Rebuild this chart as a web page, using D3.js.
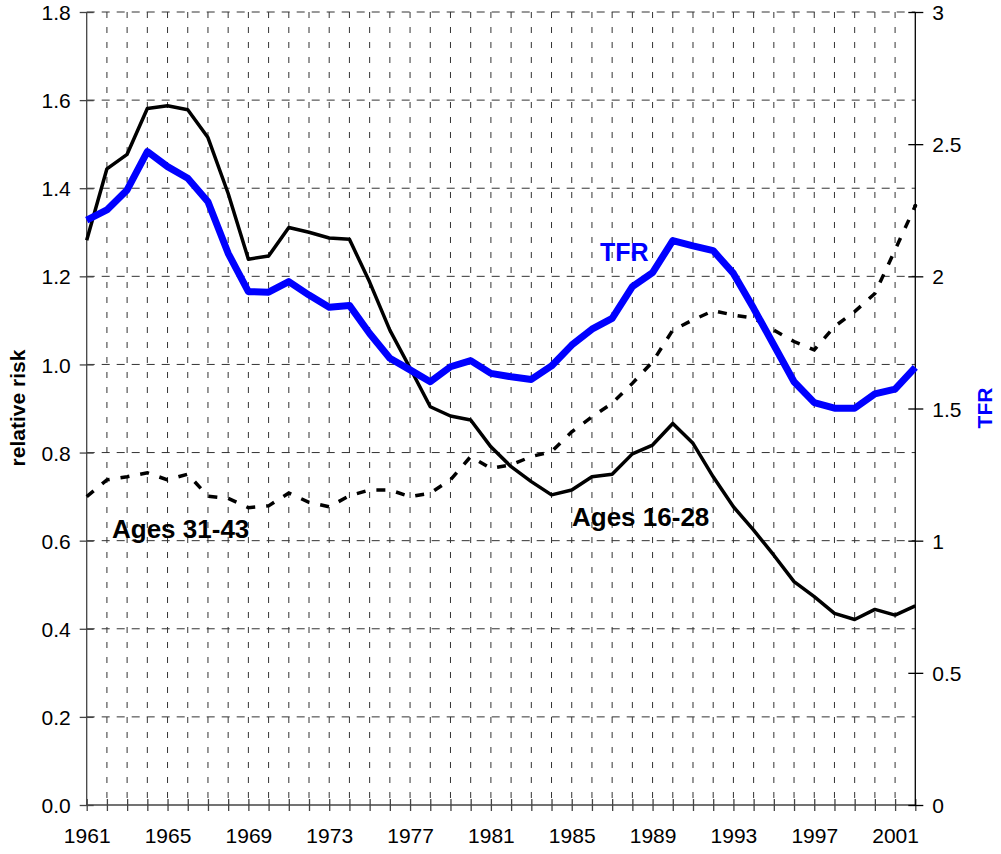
<!DOCTYPE html>
<html>
<head>
<meta charset="utf-8">
<script src="https://cdn.jsdelivr.net/npm/d3@7"></script>
<style>
  body { margin: 0; background: #fff; }
  svg { display: block; font-family: "Liberation Sans", Arial, sans-serif; }
</style>
</head>
<body>
<script>
const years = [1961, 1962, 1963, 1964, 1965, 1966, 1967, 1968, 1969, 1970,
               1971, 1972, 1973, 1974, 1975, 1976, 1977, 1978, 1979, 1980,
               1981, 1982, 1983, 1984, 1985, 1986, 1987, 1988, 1989, 1990,
               1991, 1992, 1993, 1994, 1995, 1996, 1997, 1998, 1999, 2000,
               2001, 2002];
const ages1628 = [1.282, 1.444, 1.477, 1.581, 1.587, 1.578, 1.515, 1.388, 1.239, 1.246,
                  1.311, 1.300, 1.287, 1.284, 1.187, 1.078, 0.992, 0.904, 0.883, 0.874,
                  0.813, 0.768, 0.734, 0.704, 0.715, 0.745, 0.751, 0.797, 0.817, 0.866,
                  0.821, 0.745, 0.677, 0.624, 0.567, 0.507, 0.473, 0.435, 0.421, 0.444,
                  0.431, 0.452];
const ages3143 = [0.700, 0.738, 0.745, 0.754, 0.738, 0.751, 0.701, 0.696, 0.675, 0.679,
                  0.708, 0.687, 0.677, 0.702, 0.715, 0.715, 0.700, 0.708, 0.738, 0.791,
                  0.764, 0.772, 0.791, 0.802, 0.847, 0.881, 0.912, 0.957, 1.006, 1.078,
                  1.101, 1.122, 1.112, 1.105, 1.078, 1.052, 1.033, 1.086, 1.120, 1.161,
                  1.260, 1.360];
const tfr = [2.213, 2.251, 2.327, 2.472, 2.415, 2.371, 2.282, 2.087, 1.942, 1.940,
             1.980, 1.929, 1.883, 1.890, 1.784, 1.690, 1.646, 1.601, 1.658, 1.681,
             1.633, 1.620, 1.610, 1.661, 1.740, 1.800, 1.841, 1.961, 2.014, 2.135,
             2.115, 2.097, 2.011, 1.879, 1.740, 1.601, 1.522, 1.501, 1.501, 1.555,
             1.573, 1.656];
const leftTicks = [0, 0.2, 0.4, 0.6, 0.8, 1.0, 1.2, 1.4, 1.6, 1.8];
const rightTicks = [0, 0.5, 1, 1.5, 2, 2.5, 3];
const yearLabels = [1961, 1965, 1969, 1973, 1977, 1981, 1985, 1989, 1993, 1997, 2001];

const width = 1001;
const height = 854;
const plotLeft = 86.7, plotRight = 915.3, plotTop = 12, plotBottom = 805;

const svg = d3.select("body")
              .append("svg")
              .attr("width", width)
              .attr("height", height);

const xScale = d3.scaleLinear().domain([1961, 2002]).range([plotLeft, plotRight]);
const yScale = d3.scaleLinear().domain([0, 1.8]).range([plotBottom, plotTop]);
const y2Scale = d3.scaleLinear().domain([0, 3]).range([plotBottom, plotTop]);

// grid
svg.append("g")
   .selectAll("line")
   .data(leftTicks.filter(d => d > 0))
   .enter()
   .append("line")
   .attr("x1", plotLeft).attr("x2", plotRight)
   .attr("y1", d => yScale(d)).attr("y2", d => yScale(d))
   .style("stroke", "#333")
   .style("stroke-width", 1)
   .style("stroke-dasharray", "8,7");

svg.append("g")
   .selectAll("line")
   .data(years.filter(d => d > 1961 && d < 2002))
   .enter()
   .append("line")
   .attr("x1", d => xScale(d)).attr("x2", d => xScale(d))
   .attr("y1", plotTop).attr("y2", plotBottom)
   .style("stroke", "#333")
   .style("stroke-width", 1)
   .style("stroke-dasharray", "6,9");

// axes
const xAxis = d3.axisBottom(xScale)
                .tickValues(years)
                .tickSize(6)
                .tickFormat(d => yearLabels.includes(d) ? d : "");
const yAxis = d3.axisLeft(yScale)
                .tickValues(leftTicks)
                .tickSize(7)
                .tickFormat(d3.format(".1f"));
const y2Axis = d3.axisRight(y2Scale)
                 .tickValues(rightTicks)
                 .tickSize(8)
                 .tickFormat(d => d);

const styleAxis = (g, color) => {
  g.select(".domain").style("stroke", color).style("stroke-width", 1.3);
  g.selectAll(".tick line").style("stroke", color).style("stroke-width", 1.3);
  g.selectAll(".tick text")
   .style("font-size", "21px")
   .style("font-family", "Liberation Sans, Arial, sans-serif")
   .style("fill", "#000");
};

const gx = svg.append("g")
              .attr("transform", "translate(0," + plotBottom + ")")
              .call(xAxis)
              .call(g => styleAxis(g, "#444"));
gx.select(".domain").attr("d", "M" + plotLeft + ",0H" + plotRight);
gx.selectAll(".tick line").attr("y1", -6).attr("y2", 6);
gx.selectAll(".tick text").attr("y", 23).attr("dy", "0.71em");

const gy = svg.append("g")
              .attr("transform", "translate(" + plotLeft + ",0)")
              .call(yAxis)
              .call(g => styleAxis(g, "#444"));
gy.select(".domain").attr("d", "M0," + plotTop + "V" + plotBottom);
gy.selectAll(".tick line").attr("x1", -7).attr("x2", 7);
gy.selectAll(".tick text").attr("x", -16).attr("dy", "0.36em");

const gy2 = svg.append("g")
               .attr("transform", "translate(" + plotRight + ",0)")
               .call(y2Axis)
               .call(g => styleAxis(g, "#000"));
gy2.select(".domain").attr("d", "M0," + plotTop + "V" + plotBottom);
gy2.selectAll(".tick line").attr("x1", -7).attr("x2", 8);
gy2.selectAll(".tick text").attr("x", 17).attr("dy", "0.36em");

// lines
const lineLeft = d3.line().x((d, i) => xScale(years[i])).y(d => yScale(d));
const lineRight = d3.line().x((d, i) => xScale(years[i])).y(d => y2Scale(d));

svg.append("path")
   .datum(ages3143)
   .attr("d", lineLeft)
   .style("fill", "none")
   .style("stroke", "#000")
   .style("stroke-width", 3.5)
   .style("stroke-dasharray", "9,11");

svg.append("circle")
   .attr("cx", xScale(2002))
   .attr("cy", yScale(ages3143[ages3143.length - 1]))
   .attr("r", 2)
   .style("fill", "#000");

svg.append("path")
   .datum(ages1628)
   .attr("d", lineLeft)
   .style("fill", "none")
   .style("stroke", "#000")
   .style("stroke-width", 3.5)
   .style("stroke-linejoin", "round");

svg.append("path")
   .datum(tfr)
   .attr("d", lineRight)
   .style("fill", "none")
   .style("stroke", "#0000ff")
   .style("stroke-width", 7)
   .style("stroke-linejoin", "round");

// labels
svg.append("text")
   .attr("x", 112).attr("y", 538)
   .style("font-size", "26px").style("font-weight", "bold")
   .text("Ages 31-43");

svg.append("text")
   .attr("x", 572).attr("y", 526)
   .style("font-size", "26px").style("font-weight", "bold")
   .text("Ages 16-28");

svg.append("text")
   .attr("x", 600).attr("y", 261)
   .style("font-size", "25px").style("font-weight", "bold")
   .style("fill", "#0000ff")
   .text("TFR");

svg.append("text")
   .attr("transform", "translate(25,408) rotate(-90)")
   .attr("text-anchor", "middle")
   .style("font-size", "21px").style("font-weight", "bold")
   .text("relative risk");

svg.append("text")
   .attr("transform", "translate(992,408) rotate(-90)")
   .attr("text-anchor", "middle")
   .style("font-size", "21px").style("font-weight", "bold")
   .style("fill", "#0000ff")
   .text("TFR");
</script>
</body>
</html>
